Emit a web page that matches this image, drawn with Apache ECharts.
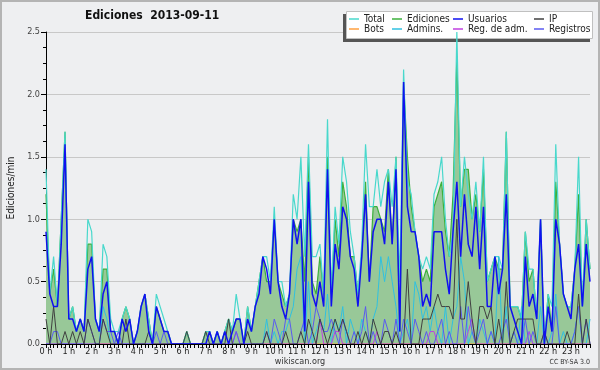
<!DOCTYPE html>
<html><head><meta charset="utf-8">
<script src="https://cdn.jsdelivr.net/npm/echarts@6/dist/echarts.min.js"></script>
<style>html,body{margin:0;padding:0;background:#eeeff1}#c{width:600px;height:370px}</style>
</head><body><div id="c"></div>
<script>
const hourLabels = ['0 h','1 h','2 h','3 h','4 h','5 h','6 h','7 h','8 h','9 h','10 h','11 h','12 h','13 h','14 h','15 h','16 h','17 h','18 h','19 h','20 h','21 h','22 h','23 h'];
const yTicks = [0, 0.5, 1.0, 1.5, 2.0, 2.5];
// values per 10-minute slot (edits/min), 6 per hour
const total = [
 1.4,0.4,0.7,0.3,1.0,1.7, 0.2,0.3,0.1,0.2,0.1,1.0, 0.9,0.2,0.1,0.8,0.7,0.2, 0.1,0.1,0.2,0.3,0.2,0.0,
 0.1,0.3,0.4,0.2,0.0,0.4, 0.3,0.2,0.1,0.0,0.0,0.0, 0.0,0.1,0.0,0.0,0.0,0.0, 0.1,0.1,0.0,0.1,0.0,0.1,
 0.2,0.1,0.4,0.2,0.0,0.3, 0.1,0.3,0.5,0.7,0.7,0.5, 1.1,0.5,0.5,0.3,0.4,1.2, 1.0,1.5,0.7,1.6,0.7,0.7,
 0.8,0.4,1.8,0.4,1.1,0.8, 1.5,1.3,0.9,0.7,0.4,0.8, 1.6,1.1,1.1,1.4,1.1,1.3, 1.4,1.1,1.5,0.5,2.2,1.3,
 1.2,0.9,0.7,0.6,0.7,0.6, 1.2,1.3,1.5,1.0,0.7,0.9, 2.5,1.1,1.5,1.2,1.0,1.3, 0.9,1.5,0.5,0.6,0.7,0.7,
 0.6,1.7,0.3,0.3,0.3,0.2, 0.9,0.6,0.6,0.2,1.0,0.0, 0.4,0.3,1.6,0.8,0.4,0.3, 0.3,0.6,1.5,0.3,1.0,0.6];
const ediciones = [
 1.2,0.4,0.6,0.3,1.0,1.7, 0.2,0.3,0.1,0.2,0.1,0.8, 0.8,0.2,0.1,0.6,0.6,0.1, 0.1,0.0,0.2,0.3,0.2,0.0,
 0.1,0.3,0.4,0.2,0.0,0.3, 0.2,0.1,0.1,0.0,0.0,0.0, 0.0,0.1,0.0,0.0,0.0,0.0, 0.1,0.1,0.0,0.1,0.0,0.1,
 0.2,0.1,0.2,0.2,0.0,0.3, 0.1,0.3,0.5,0.7,0.5,0.5, 1.0,0.5,0.4,0.3,0.4,1.0, 0.9,1.0,0.5,1.5,0.5,0.4,
 0.7,0.4,1.5,0.4,1.0,0.7, 1.3,1.1,0.7,0.7,0.4,0.7, 1.3,0.5,1.1,1.1,1.0,0.9, 1.4,0.8,1.5,0.1,2.1,1.5,
 1.1,0.9,0.7,0.5,0.6,0.5, 1.1,1.2,1.3,0.9,0.7,1.2, 2.3,1.1,1.4,1.4,1.0,1.2, 0.9,1.4,0.5,0.6,0.7,0.6,
 0.6,1.7,0.3,0.3,0.3,0.2, 0.9,0.5,0.6,0.2,1.0,0.0, 0.4,0.1,1.3,0.8,0.4,0.3, 0.3,0.6,1.2,0.3,1.0,0.6];
const usuarios = [
 0.9,0.4,0.3,0.3,0.8,1.6, 0.2,0.2,0.1,0.2,0.1,0.6, 0.7,0.2,0.1,0.4,0.5,0.1, 0.1,0.0,0.2,0.1,0.2,0.0,
 0.1,0.3,0.4,0.1,0.0,0.3, 0.2,0.1,0.1,0.0,0.0,0.0, 0.0,0.0,0.0,0.0,0.0,0.0, 0.0,0.1,0.0,0.1,0.0,0.1,
 0.0,0.1,0.2,0.2,0.0,0.2, 0.1,0.3,0.4,0.7,0.6,0.4, 1.0,0.5,0.3,0.2,0.4,1.0, 0.8,1.0,0.1,1.3,0.4,0.3,
 0.5,0.3,1.4,0.3,0.8,0.6, 1.1,1.0,0.7,0.6,0.3,0.7, 1.2,0.5,0.9,1.0,1.0,0.8, 1.3,0.8,1.4,0.1,2.1,1.1,
 0.9,0.9,0.7,0.3,0.4,0.3, 0.9,0.9,0.9,0.6,0.4,0.9, 1.3,0.7,1.2,0.8,0.7,1.1, 0.6,1.1,0.3,0.3,0.7,0.4,
 0.6,1.2,0.3,0.2,0.1,0.0, 0.7,0.3,0.4,0.2,1.0,0.0, 0.3,0.1,1.0,0.8,0.4,0.3, 0.2,0.6,0.8,0.3,0.8,0.5];
const ip = [
 0.2,0.0,0.3,0.0,0.0,0.1, 0.0,0.1,0.0,0.1,0.0,0.2, 0.1,0.0,0.0,0.2,0.1,0.0, 0.0,0.0,0.0,0.2,0.0,0.0,
 0.0,0.0,0.0,0.1,0.0,0.0, 0.0,0.0,0.0,0.0,0.0,0.0, 0.0,0.1,0.0,0.0,0.0,0.0, 0.1,0.0,0.0,0.0,0.0,0.0,
 0.2,0.0,0.0,0.0,0.0,0.1, 0.0,0.0,0.0,0.0,0.1,0.0, 0.0,0.0,0.0,0.1,0.0,0.0, 0.0,0.1,0.0,0.2,0.1,0.0,
 0.2,0.1,0.0,0.1,0.2,0.1, 0.2,0.1,0.0,0.0,0.1,0.0, 0.1,0.0,0.2,0.1,0.0,0.1, 0.1,0.0,0.1,0.0,0.0,0.6,
 0.0,0.0,0.0,0.2,0.2,0.2, 0.3,0.4,0.3,0.3,0.3,0.2, 1.0,0.2,0.2,0.5,0.2,0.0, 0.3,0.3,0.2,0.3,0.0,0.2,
 0.0,0.5,0.0,0.1,0.2,0.2, 0.2,0.2,0.2,0.0,0.0,0.1, 0.0,0.0,0.0,0.0,0.0,0.1, 0.0,0.0,0.4,0.0,0.2,0.0];
const bots = new Array(144).fill(0);
const admins = [
 0.0,0.0,0.0,0.0,0.0,0.0, 0.0,0.0,0.0,0.0,0.0,0.0, 0.0,0.0,0.0,0.3,0.2,0.0, 0.0,0.0,0.0,0.0,0.0,0.0,
 0.0,0.0,0.0,0.0,0.0,0.0, 0.0,0.0,0.0,0.0,0.0,0.0, 0.0,0.0,0.0,0.0,0.0,0.0, 0.0,0.0,0.0,0.0,0.0,0.0,
 0.0,0.0,0.0,0.0,0.0,0.0, 0.0,0.0,0.0,0.0,0.2,0.0, 0.1,0.0,0.1,0.1,0.2,0.3, 0.6,0.7,0.0,0.5,0.0,0.1,
 0.2,0.1,0.4,0.0,0.2,0.1, 0.3,0.0,0.2,0.1,0.0,0.2, 0.1,0.0,0.2,0.3,0.7,0.5, 0.7,0.5,0.3,0.0,0.1,0.2,
 0.0,0.5,0.4,0.2,0.3,0.1, 0.3,0.1,0.0,0.3,0.0,0.2, 0.3,0.7,0.5,0.0,0.1,0.0, 0.2,0.1,0.0,0.1,0.0,0.7,
 0.0,0.3,0.0,0.1,0.0,0.3, 0.0,0.1,0.0,0.0,0.3,0.0, 0.0,0.1,0.4,0.0,0.1,0.0, 0.0,0.1,0.3,0.0,0.0,0.2];
const regAdm = [
 0,0,0,0,0,0, 0,0,0,0,0,0, 0,0,0,0,0,0, 0,0,0,0,0,0,
 0,0,0,0,0,0, 0,0,0,0,0,0, 0,0,0,0,0,0, 0,0,0,0,0,0,
 0,0,0.1,0,0,0, 0,0,0,0,0,0, 0,0,0,0,0,0, 0,0,0,0,0,0,
 0.2,0,0,0,0.1,0.1, 0,0,0,0,0,0, 0,0,0,0.1,0,0, 0,0,0,0,0,0,
 0,0,0,0,0,0.1, 0.1,0,0,0,0,0, 0,0,0,0.1,0.2,0, 0,0,0,0,0,0,
 0,0,0,0,0,0, 0,0.1,0,0,0,0, 0,0,0,0,0,0, 0,0,0,0,0,0];
const registros = [
 0,0,0.1,0.1,0,0, 0,0,0,0,0,0.2, 0.1,0,0,0.2,0.1,0.1, 0,0.1,0,0,0,0,
 0,0,0,0,0,0.1, 0,0.1,0,0,0,0, 0,0,0,0,0,0, 0,0,0,0,0,0,
 0,0,0.1,0,0,0, 0,0,0,0,0.1,0, 0.2,0.1,0,0.2,0.2,0, 0,0.1,0.2,0,0.1,0.3,
 0.2,0.1,0.1,0.2,0.1,0, 0.2,0.1,0,0.1,0,0.1, 0.3,0,0.1,0,0,0.2, 0.1,0,0.2,0,0.2,0.1,
 0,0.2,0.1,0,0.1,0, 0,0.1,0.2,0,0.1,0, 0,0.3,0,0.3,0.1,0, 0.1,0.2,0,0.1,0,0,
 0.1,0.2,0,0.1,0,0, 0.2,0,0.1,0,0,0.1, 0,0,0.3,0,0,0, 0,0.1,0.3,0,0.2,0];

const slots = [];
hourLabels.forEach(h => { for (let m = 0; m < 6; m++) slots.push(m === 0 ? h : h + ' ' + m + '0'); });

const FONT = "'DejaVu Sans Condensed','DejaVu Sans',sans-serif";
const chart = echarts.init(document.getElementById('c'), null, {renderer: 'canvas'});
function line(name, data, color, width, extra) {
  return Object.assign({
    name, type: 'line', data, symbol: 'none', showSymbol: false, animation: false,
    itemStyle: {color}, lineStyle: {color, width}, z: 2
  }, extra || {});
}
const legendBase = {
  orient: 'vertical', top: 14, padding: 0, itemGap: 0, itemWidth: 10, itemHeight: 1.5,
  icon: 'rect', selectedMode: false, z: 3,
  textStyle: {fontFamily: FONT, fontSize: 10, lineHeight: 10, color: '#222'}
};
chart.setOption({
  backgroundColor: '#eeeff1',
  animation: false,
  title: {text: 'Ediciones  2013-09-11', left: 85, top: 10, padding: 0,
    textStyle: {fontFamily: FONT, fontSize: 12, fontWeight: 'bold', color: '#111'}},
  grid: {left: 46, right: 10, top: 32, bottom: 26, outerBoundsMode: 'none', containLabel: false},
  legend: [
    Object.assign({}, legendBase, {left: 349, data: ['Total', 'Bots']}),
    Object.assign({}, legendBase, {left: 392, data: ['Ediciones', 'Admins.']}),
    Object.assign({}, legendBase, {left: 453, data: ['Usuarios', 'Reg. de adm.']}),
    Object.assign({}, legendBase, {left: 534, data: ['IP', 'Registros']})
  ],
  xAxis: {
    type: 'category', data: slots, boundaryGap: false, z: 10,
    axisLine: {lineStyle: {color: '#000', width: 1}},
    axisTick: {interval: 0, length: 4, lineStyle: {color: '#000'}},
    axisLabel: {interval: (i) => i % 6 === 0, margin: 3, fontFamily: FONT, fontSize: 9, color: '#222'},
    splitLine: {show: false}
  },
  yAxis: {
    type: 'value', min: 0, max: 2.5, interval: 0.5,
    name: 'Ediciones/min', nameLocation: 'middle', nameGap: 30, nameRotate: 90,
    nameTextStyle: {fontFamily: FONT, fontSize: 10, color: '#222'},
    axisLine: {show: true, lineStyle: {color: '#000'}},
    axisTick: {show: true, length: 5, lineStyle: {color: '#000'}},
    minorTick: {show: true, splitNumber: 4, length: 3, lineStyle: {color: '#000'}},
    axisLabel: {formatter: v => v.toFixed(1), margin: 6, fontFamily: FONT, fontSize: 9, color: '#444'},
    splitLine: {lineStyle: {color: '#c8c8c8', width: 1}}
  },
  graphic: [
    {type: 'rect', z: 1, shape: {x: 343, y: 14, width: 247, height: 28}, style: {fill: '#555'}},
    {type: 'rect', z: 1, shape: {x: 346.5, y: 11.5, width: 246, height: 27}, style: {fill: '#fff', stroke: '#c0c0c0', lineWidth: 1}},
    {type: 'text', z: 5, x: 300, y: 362, style: {text: 'wikiscan.org', fontFamily: FONT, fontSize: 9, fill: '#333', align: 'center', verticalAlign: 'middle'}},
    {type: 'text', z: 5, x: 590, y: 362, style: {text: 'CC BY-SA 3.0', fontFamily: FONT, fontSize: 7, fill: '#333', align: 'right', verticalAlign: 'middle'}},
    {type: 'rect', z: 20, shape: {x: 1, y: 1, width: 598, height: 368}, style: {fill: 'none', stroke: '#b4b4b4', lineWidth: 2}}
  ],
  series: [
    line('Ediciones', ediciones, '#3cb03c', 1.2, {areaStyle: {color: '#98c898', opacity: 1}}),
    line('Total', total, '#48d8cc', 1.2),
    line('Bots', bots, '#ffa040', 1),
    line('Admins.', admins, '#30c0e0', 1),
    line('Reg. de adm.', regAdm, '#c040e0', 1),
    line('Registros', registros, '#5a5af0', 1),
    line('IP', ip, '#404040', 1),
    line('Usuarios', usuarios, '#1010f0', 1.5)
  ]
});
</script></body></html>
